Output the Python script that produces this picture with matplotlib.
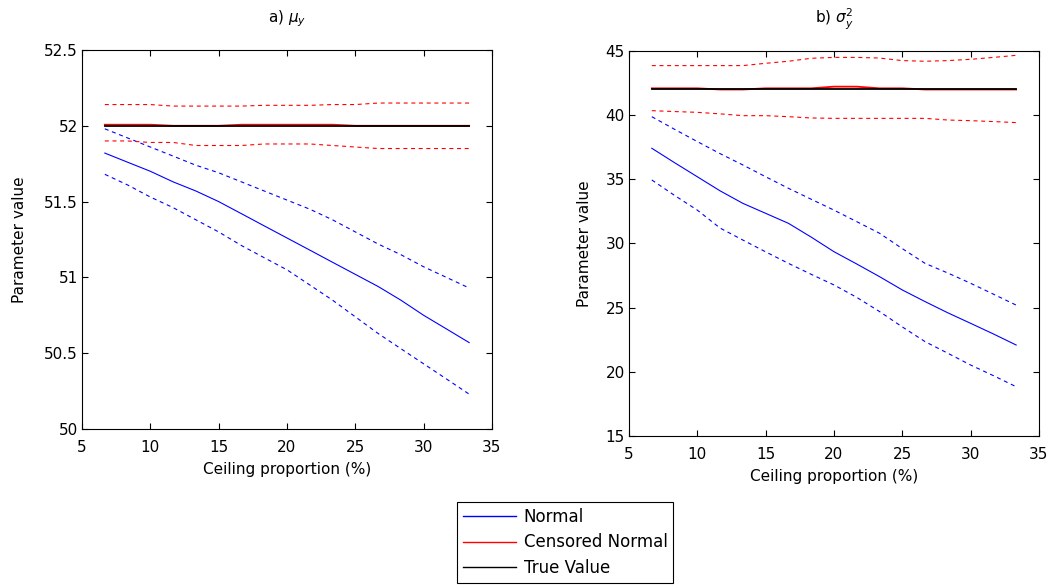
import numpy as np
import matplotlib
matplotlib.use("Agg")
import matplotlib.pyplot as plt

plt.rcParams['font.family'] = ['DejaVu Sans']
plt.rcParams['mathtext.fontset'] = 'dejavusans'

# ceiling proportion (%)
ceil = [6.67, 8.33, 10.0, 11.67, 13.33, 15.0, 16.67, 18.33, 20.0, 21.67,
        23.33, 25.0, 26.67, 28.33, 30.0, 31.67, 33.33]

# a) mu_y
mu_true = 52.0
mu_norm = [51.82, 51.76, 51.70, 51.63, 51.57, 51.50, 51.42, 51.34, 51.26, 51.18,
           51.10, 51.02, 50.94, 50.85, 50.75, 50.66, 50.57]
mu_norm_hi = [51.98, 51.92, 51.86, 51.80, 51.74, 51.69, 51.63, 51.57, 51.51, 51.45,
              51.38, 51.30, 51.22, 51.15, 51.07, 51.00, 50.93]
mu_norm_lo = [51.68, 51.61, 51.53, 51.46, 51.38, 51.30, 51.21, 51.13, 51.05, 50.95,
              50.85, 50.74, 50.63, 50.53, 50.43, 50.33, 50.23]
mu_cens = [52.007, 52.007, 52.007, 52.0, 52.0, 52.0, 52.007, 52.007, 52.007, 52.007,
           52.007, 52.0, 52.0, 52.0, 52.0, 52.0, 52.0]
mu_cens_hi = [52.14, 52.14, 52.14, 52.13, 52.13, 52.13, 52.13, 52.135, 52.135, 52.135,
              52.14, 52.14, 52.15, 52.15, 52.15, 52.15, 52.15]
mu_cens_lo = [51.90, 51.90, 51.89, 51.89, 51.87, 51.87, 51.87, 51.88, 51.88, 51.88,
              51.87, 51.86, 51.85, 51.85, 51.85, 51.85, 51.85]

# b) sigma^2_y
s2_true = 42.0
s2_norm = [37.42, 36.30, 35.20, 34.10, 33.13, 32.35, 31.57, 30.50, 29.36, 28.40,
           27.42, 26.38, 25.47, 24.60, 23.78, 22.95, 22.09]
s2_norm_hi = [39.88, 38.90, 37.94, 37.00, 36.12, 35.20, 34.30, 33.45, 32.60, 31.70,
              30.80, 29.60, 28.45, 27.70, 26.90, 26.05, 25.20]
s2_norm_lo = [34.95, 33.75, 32.60, 31.20, 30.27, 29.35, 28.45, 27.60, 26.77, 25.80,
              24.70, 23.50, 22.35, 21.45, 20.53, 19.70, 18.84]
s2_cens = [42.09, 42.09, 42.09, 42.0, 42.0, 42.09, 42.09, 42.09, 42.22, 42.22,
           42.09, 42.09, 42.0, 42.0, 42.0, 42.0, 42.0]
s2_cens_hi = [43.86, 43.86, 43.86, 43.86, 43.86, 44.04, 44.20, 44.43, 44.50, 44.50,
              44.45, 44.25, 44.20, 44.25, 44.35, 44.50, 44.66]
s2_cens_lo = [40.35, 40.28, 40.22, 40.10, 39.96, 39.96, 39.88, 39.78, 39.75, 39.75,
              39.75, 39.75, 39.75, 39.62, 39.57, 39.50, 39.42]

dash = (3.6, 3.3)
lw = 0.8

fig = plt.figure(figsize=(10.58, 5.88), dpi=100)
ax1 = fig.add_axes([0.0775, 0.2704, 0.3875, 0.6446])
ax2 = fig.add_axes([0.5945, 0.2585, 0.3875, 0.6548])


def draw(ax, norm, hi, lo, cens, chi, clo, true):
    ax.plot(ceil, norm, color='b', lw=lw, label='Normal')
    ax.plot(ceil, hi, color='b', lw=lw, dashes=dash)
    ax.plot(ceil, lo, color='b', lw=lw, dashes=dash)
    ax.plot(ceil, cens, color='r', lw=1.3, label='Censored Normal')
    ax.plot(ceil, chi, color='r', lw=lw, dashes=dash)
    ax.plot(ceil, clo, color='r', lw=lw, dashes=dash)
    ax.plot(ceil, [true] * len(ceil), color='k', lw=1.3, label='True Value')
    ax.set_xlim(5, 35)
    ax.set_xticks(range(5, 36, 5))
    ax.tick_params(direction='in', top=True, right=True, labelsize=11, length=4)
    ax.tick_params(axis='y', pad=3)
    ax.tick_params(axis='x', pad=8)
    ax.set_xlabel('Ceiling proportion (%)', fontsize=11, labelpad=5)


draw(ax1, mu_norm, mu_norm_hi, mu_norm_lo, mu_cens, mu_cens_hi, mu_cens_lo, mu_true)
ax1.set_ylim(50, 52.5)
ax1.set_yticks([50, 50.5, 51, 51.5, 52, 52.5])
ax1.set_yticklabels(['50', '50.5', '51', '51.5', '52', '52.5'])
ax1.set_ylabel('Parameter value', fontsize=11, labelpad=12)
ax1.set_title(r'a) $\mu_y$', fontsize=11, pad=20)

draw(ax2, s2_norm, s2_norm_hi, s2_norm_lo, s2_cens, s2_cens_hi, s2_cens_lo, s2_true)
ax2.set_ylim(15, 45)
ax2.set_yticks(range(15, 46, 5))
ax2.set_ylabel('Parameter value', fontsize=11, labelpad=10)
ax2.set_title(r'b) $\sigma^2_y$', fontsize=11, pad=20)

handles, labels = ax1.get_legend_handles_labels()
leg = fig.legend(handles, labels, loc='upper left', bbox_to_anchor=(0.432, 0.146),
                 fontsize=12, fancybox=False, edgecolor='k', framealpha=1,
                 handlelength=3.2, borderpad=0.35, labelspacing=0.45, handletextpad=0.45,
                 borderaxespad=0)
leg.get_frame().set_linewidth(0.8)
for h in leg.legend_handles:
    h.set_linewidth(1.0)

fig.savefig('out.png', dpi=100, facecolor='white')
